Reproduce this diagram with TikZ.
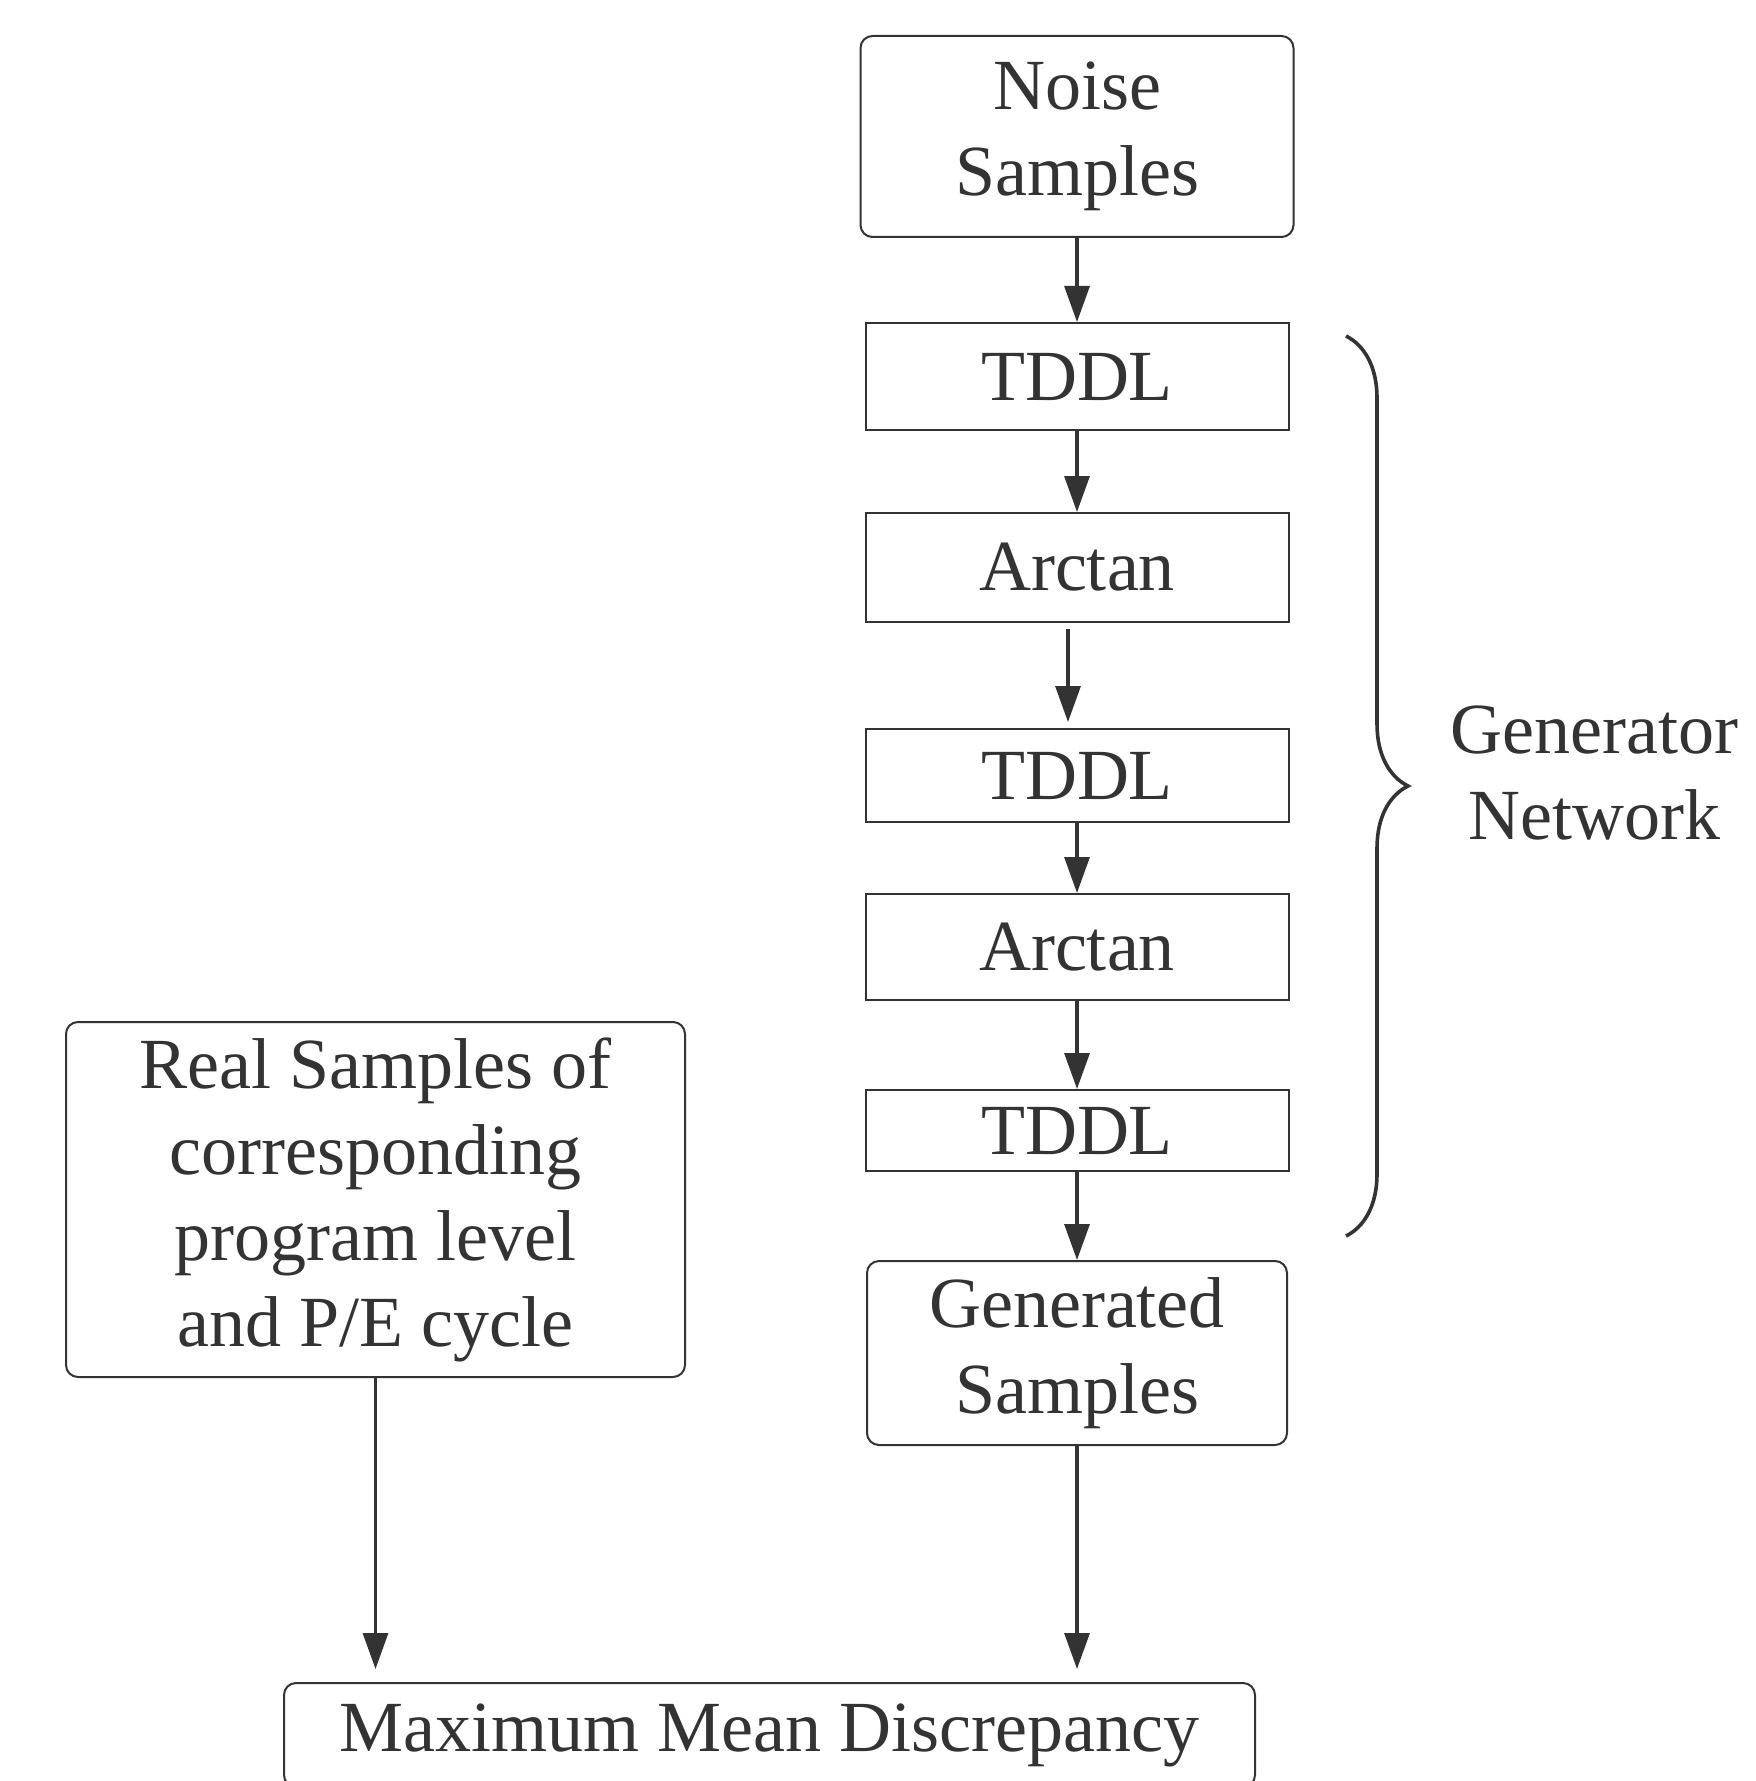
\documentclass[tikz,border=0pt]{standalone}
\usepackage{fontspec}
\setmainfont{Liberation Serif}
\usepackage{tikz}
\usetikzlibrary{arrows.meta, decorations.pathreplacing}
\definecolor{ink}{HTML}{333333}

\begin{document}
\begin{tikzpicture}[x=0.5pt, y=-0.5pt,
    flow/.style={draw=ink, line width=1.6pt, -{Triangle[length=18pt, width=12.5pt]}}]
      \useasboundingbox (0,0) rectangle (1755,1781);

      {\tikzstyle{every node}=[draw=ink, text=ink, line width=1pt, align=center,
          inner sep=0pt, font=\fontsize{36}{43}\selectfont]
        \node[rounded corners=6pt, minimum width=216.5pt, minimum height=100.5pt]
          (noise) at (1077, 136.5) {Noise\\Samples};

        \foreach \i/\name/\y/\h in {1/TDDL/376.5/107, 2/Arctan/567.5/109,
            3/TDDL/775.5/93, 4/Arctan/947/106, 5/TDDL/1130.5/81}
        {
          \node[minimum width=211.5pt, minimum height=\h*0.5pt] (l\i) at (1077, \y) {\name};
        }

        \node[rounded corners=6pt, minimum width=210pt, minimum height=92pt]
          (gen) at (1077, 1353) {Generated\\Samples};

        \node[rounded corners=6pt, minimum width=309.5pt, minimum height=177.5pt]
          (real) at (375.5, 1199.5) {Real Samples of\\corresponding\\program level\\and P/E cycle};

        \node[rounded corners=6pt, minimum width=485.5pt, minimum height=52pt]
          (mmd) at (769.5, 1735) {Maximum Mean Discrepancy};
      }

      \foreach \a/\b in {noise/l1, l1/l2, l3/l4, l4/l5, l5/gen}
        \draw[flow] (\a) -- (\b);

      \draw[flow, shorten <=3pt, shorten >=3pt]
        ([xshift=-4.5pt]l2.south) -- ([xshift=-4.5pt]l3.north);

      \draw[flow, shorten >=6.5pt] (real) -- (real.south |- mmd.north);
      \draw[flow, shorten >=6.5pt] (gen) -- (gen.south |- mmd.north);

      \coordinate (gtop) at (1346, 336);
      \coordinate (gbot) at (1346, 1236);
      \draw[ink, line width=1.8pt, decorate, decoration={brace, amplitude=31pt}]
        (gtop) -- (gbot);
      \node[text=ink, align=center, anchor=west, inner sep=0pt,
          font=\fontsize{36}{43}\selectfont] (gnet) at (1450, 773) {Generator\\Network};
    \end{tikzpicture}
\end{document}
